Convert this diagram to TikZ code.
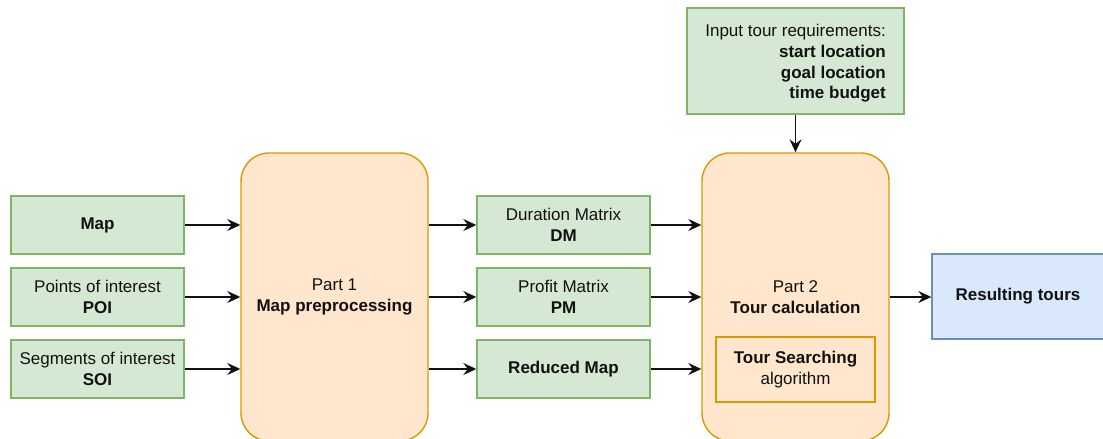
\documentclass[tikz,border=0pt]{standalone}
\usepackage{fontspec}
\setmainfont{Liberation Sans}
\usetikzlibrary{arrows.meta}
\definecolor{gfill}{HTML}{D5E8D4}
\definecolor{gline}{HTML}{82B366}
\definecolor{ofill}{HTML}{FFE6CC}
\definecolor{oline}{HTML}{D79B00}
\definecolor{bfill}{HTML}{DAE8FC}
\definecolor{bline}{HTML}{6C8EBF}
\definecolor{ink}{HTML}{111111}
\tikzset{
  every node/.style={font=\fontsize{17}{20.6}\selectfont, text=ink, inner sep=0pt, align=center},
  greenbox/.style={draw=gline, fill=gfill, line width=1.4pt, minimum width=173pt, minimum height=58pt},
  partbox/.style={draw=oline, fill=ofill, line width=1.4pt, rounded corners=28pt, minimum width=187pt, minimum height=288pt},
  algbox/.style={draw=oline, line width=1.4pt, minimum width=159pt, minimum height=65pt},
  outbox/.style={draw=bline, fill=bfill, line width=1.4pt, minimum width=172pt, minimum height=85pt},
  flow/.style={draw=ink, line width=1.4pt, -{Stealth[length=13pt, width=12pt, inset=4.5pt]}}
}
\begin{document}
\begin{tikzpicture}[x=1pt, y=-1pt]
  \useasboundingbox (0,0) rectangle (1103,439);

  % inputs
  \node[greenbox] (map) at (97.5,225) {\textbf{Map}\rule[-1.5pt]{0pt}{1pt}};
  \node[greenbox] (poi) at (97.5,297) {Points of interest\\\textbf{POI}};
  \node[greenbox] (soi) at (97.5,369) {Segments of interest\\\textbf{SOI}};

  % preprocessing stage
  \node[partbox] (p1) at (334.5,297) {Part 1\\\textbf{Map preprocessing}};

  % intermediate products
  \node[greenbox] (dm) at (563.5,225) {Duration Matrix\\\textbf{DM}};
  \node[greenbox] (pm) at (563.5,297) {Profit Matrix\\\textbf{PM}};
  \node[greenbox] (rm) at (563.5,369) {\textbf{Reduced Map}};

  % tour stage
  \node[partbox] (p2) at (795.5,297) {Part 2\\\textbf{Tour calculation}};
  \node[algbox] (alg) at (795.5,369.5) {\textbf{Tour Searching}\\algorithm};

  % tour requirements
  \node[draw=gline, fill=gfill, line width=1.4pt, minimum width=217pt, minimum height=106pt] (req) at (795.5,61) {};
  \node[anchor=east, align=right] (reqtext) at (886,63.5) {Input tour requirements:\\\textbf{start location}\\\textbf{goal location}\\\textbf{time budget}};

  % result
  \node[outbox] (res) at (1018,296.5) {\textbf{Resulting tours}};

  % connectors
  \draw[flow] (map.east) -- (map.east -| p1.west);
  \draw[flow] (poi.east) -- (poi.east -| p1.west);
  \draw[flow] (soi.east) -- (soi.east -| p1.west);
  \draw[flow] (dm.west -| p1.east) -- (dm.west);
  \draw[flow] (pm.west -| p1.east) -- (pm.west);
  \draw[flow] (rm.west -| p1.east) -- (rm.west);
  \draw[flow] (dm.east) -- (dm.east -| p2.west);
  \draw[flow] (pm.east) -- (pm.east -| p2.west);
  \draw[flow] (rm.east) -- (rm.east -| p2.west);
  \draw[flow] (req.south) -- (p2.north);
  \draw[flow] (p2.east) -- (p2.east -| res.west);
\end{tikzpicture}
\end{document}
